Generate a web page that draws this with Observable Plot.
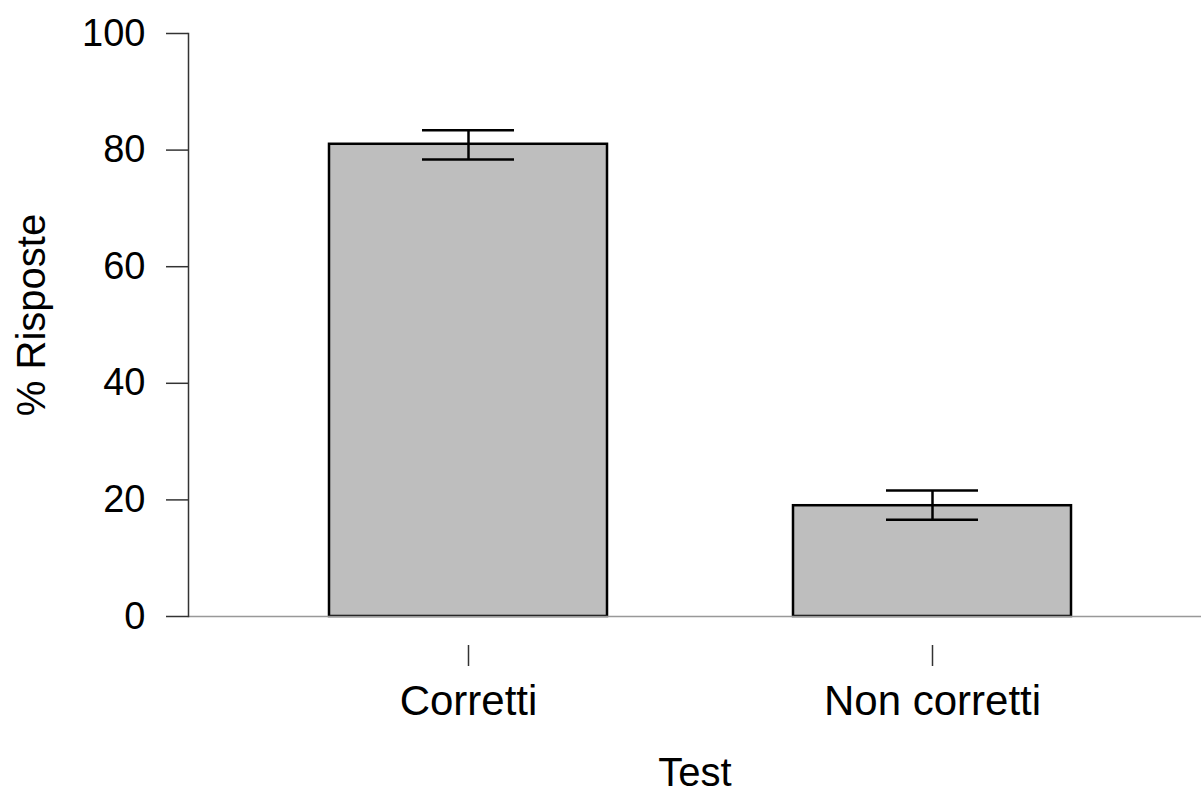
<!DOCTYPE html>
<html>
<head>
<meta charset="utf-8">
<script src="https://cdn.jsdelivr.net/npm/d3@7"></script>
<script src="https://cdn.jsdelivr.net/npm/@observablehq/plot@0.6"></script>
<style>
  html, body { margin: 0; padding: 0; background: #fff; }
  #chart svg { display: block; }
</style>
</head>
<body>
<div id="chart"></div>
<script>
const categories = ["Corretti", "Non corretti"];
const means = [81.0, 19.0];
const errLow = [78.4, 16.6];
const errHigh = [83.4, 21.6];
const yTicks = [0, 20, 40, 60, 80, 100];
const xTitle = "Test";
const yTitle = "% Risposte";

const data = categories.map((c, i) => ({ test: c, mean: means[i], lo: errLow[i], hi: errHigh[i] }));

const chart = Plot.plot({
  width: 1201,
  height: 792,
  marginTop: 33,
  marginBottom: 176,
  marginLeft: 188,
  marginRight: 0,
  style: { fontFamily: "'Liberation Sans', Arial, sans-serif", color: "#000", background: "#fff", overflow: "visible" },
  x: { domain: categories, paddingInner: 0.4, paddingOuter: 0.29, align: 0.52 },
  y: { domain: [0, 100] },
  marks: [
    Plot.barY(data, { x: "test", y: "mean", fill: "#bebebe", stroke: "#000", strokeWidth: 2.5 }),
    Plot.ruleY([0], { stroke: "#999", strokeWidth: 1.5 }),
    Plot.frame({ anchor: "left", stroke: "#333", strokeWidth: 1.5 }),
    Plot.ruleX(data, { x: "test", y1: "lo", y2: "hi", stroke: "#000", strokeWidth: 2.5 }),
    Plot.tickY(data, { x: "test", y: "lo", stroke: "#000", strokeWidth: 2.5, insetLeft: 93, insetRight: 93 }),
    Plot.tickY(data, { x: "test", y: "hi", stroke: "#000", strokeWidth: 2.5, insetLeft: 93, insetRight: 93 }),
    Plot.axisY({ ticks: yTicks, tickSize: 22, tickPadding: 21, fontSize: 38, stroke: "#333", strokeWidth: 1.5, label: null }),
    Plot.axisX({ tickSize: 21, dy: 29, tickPadding: 19, fontSize: 42, stroke: "#333", strokeWidth: 1.5, label: null }),
    Plot.text([xTitle], { frameAnchor: "bottom", dy: 157, fontSize: 40, lineAnchor: "middle", fill: "#000" }),
    Plot.text([yTitle], { frameAnchor: "left", dx: -156, dy: -10, rotate: -90, textAnchor: "middle", fontSize: 40, lineAnchor: "middle", fill: "#000" })
  ]
});
document.getElementById("chart").appendChild(chart);
</script>
</body>
</html>
